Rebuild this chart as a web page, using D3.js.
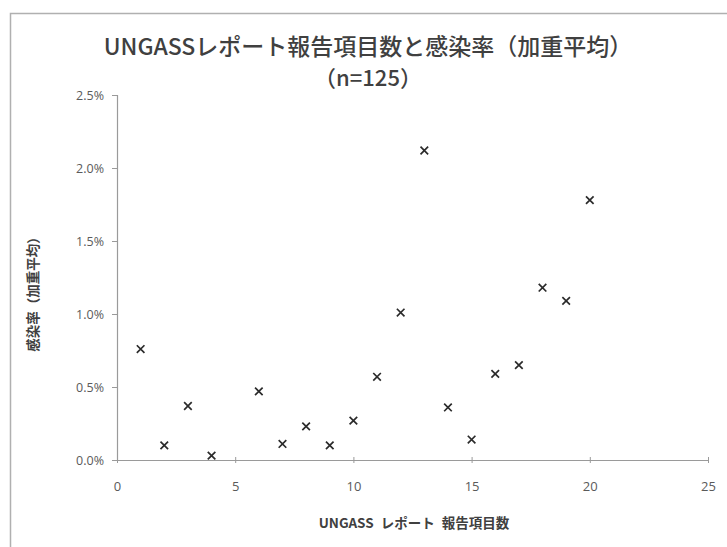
<!DOCTYPE html>
<html>
<head>
<meta charset="utf-8">
<script src="https://cdn.jsdelivr.net/npm/d3@7"></script>
<style>
  html, body { margin: 0; padding: 0; background: #fff; }
  svg { display: block; }
  text { font-family: "Noto Sans CJK JP", "Open Sans", sans-serif; }
</style>
</head>
<body>
<svg id="chart" width="727" height="547"></svg>
<script>
// UNGASS report item count vs. weighted-average infection rate
const itemCounts = [1, 2, 3, 4, 6, 7, 8, 9, 10, 11, 12, 13, 14, 15, 16, 17, 18, 19, 20];
const infectionRates = [0.0076, 0.0010, 0.0037, 0.0003, 0.0047, 0.0011, 0.0023, 0.0010, 0.0027,
                        0.0057, 0.0101, 0.0212, 0.0036, 0.0014, 0.0059, 0.0065, 0.0118, 0.0109, 0.0178];
const xTicks = [0, 5, 10, 15, 20, 25];
const yTicks = [0, 0.005, 0.01, 0.015, 0.02, 0.025];

const titleLine1 = "UNGASSレポート報告項目数と感染率（加重平均）";
const titleLine2 = "（n=125）";
const xLabel = "UNGASS レポート 報告項目数";
const yLabel = "感染率（加重平均）";

const svg = d3.select("#chart");

// outer chart frame
svg.append("path")
  .attr("d", "M10.5,547 L10.5,13.5 L727,13.5")
  .attr("fill", "none")
  .attr("stroke", "#b0b0b0")
  .attr("stroke-width", 1.5);

const x = d3.scaleLinear().domain([0, 25]).range([117, 708]);
const y = d3.scaleLinear().domain([0, 0.025]).range([460, 95]);

const axisColor = "#9a9a9a";
const tickText = "#5a5a5a";

// y axis
const yAxis = svg.append("g")
  .attr("transform", `translate(${x(0)},0)`)
  .call(d3.axisLeft(y).tickValues(yTicks).tickSize(5).tickPadding(8)
    .tickFormat(d3.format(".1%")));
yAxis.select(".domain").attr("stroke", axisColor).attr("stroke-width", 1.2);
yAxis.selectAll(".tick line").attr("stroke", axisColor);
yAxis.selectAll(".tick text")
  .attr("fill", tickText)
  .style("font-family", "'Open Sans', sans-serif")
  .style("font-size", "12.5px");

// x axis
const xAxis = svg.append("g")
  .attr("transform", `translate(0,${y(0)})`)
  .call(d3.axisBottom(x).tickValues(xTicks).tickSizeInner(4).tickSizeOuter(0).tickPadding(18));
xAxis.select(".domain").attr("stroke", axisColor).attr("stroke-width", 1.2);
xAxis.selectAll(".tick line").attr("stroke", axisColor).attr("y1", -3).attr("y2", 3);
xAxis.selectAll(".tick text")
  .attr("fill", tickText)
  .style("font-family", "'Open Sans', sans-serif")
  .style("font-size", "13px");

// x-shaped markers
const points = itemCounts.map((c, i) => ({ c, r: infectionRates[i] }));
const s = 3.8;
svg.append("g")
  .selectAll("path")
  .data(points)
  .join("path")
  .attr("transform", d => `translate(${x(d.c)},${y(d.r)})`)
  .attr("d", `M${-s},${-s}L${s},${s}M${-s},${s}L${s},${-s}`)
  .attr("stroke", "#2b2b2b")
  .attr("stroke-width", 1.7)
  .attr("fill", "none");

// titles
svg.append("text")
  .attr("x", 368).attr("y", 55)
  .attr("text-anchor", "middle")
  .attr("fill", "#404040")
  .style("font-size", "23px")
  .style("font-weight", "500")
  .text(titleLine1);
svg.append("text")
  .attr("x", 368).attr("y", 86)
  .attr("text-anchor", "middle")
  .attr("fill", "#404040")
  .style("font-size", "22px")
  .style("font-weight", "500")
  .text(titleLine2);

// axis titles
svg.append("text")
  .attr("x", 414).attr("y", 528)
  .attr("text-anchor", "middle")
  .attr("fill", "#404040")
  .attr("word-spacing", "4")
  .style("font-size", "13.5px")
  .style("font-weight", "bold")
  .text(xLabel);
svg.append("text")
  .attr("transform", "translate(38,291) rotate(-90)")
  .attr("text-anchor", "middle")
  .attr("fill", "#404040")
  .style("font-size", "13.5px")
  .style("font-weight", "bold")
  .text(yLabel);
</script>
</body>
</html>
